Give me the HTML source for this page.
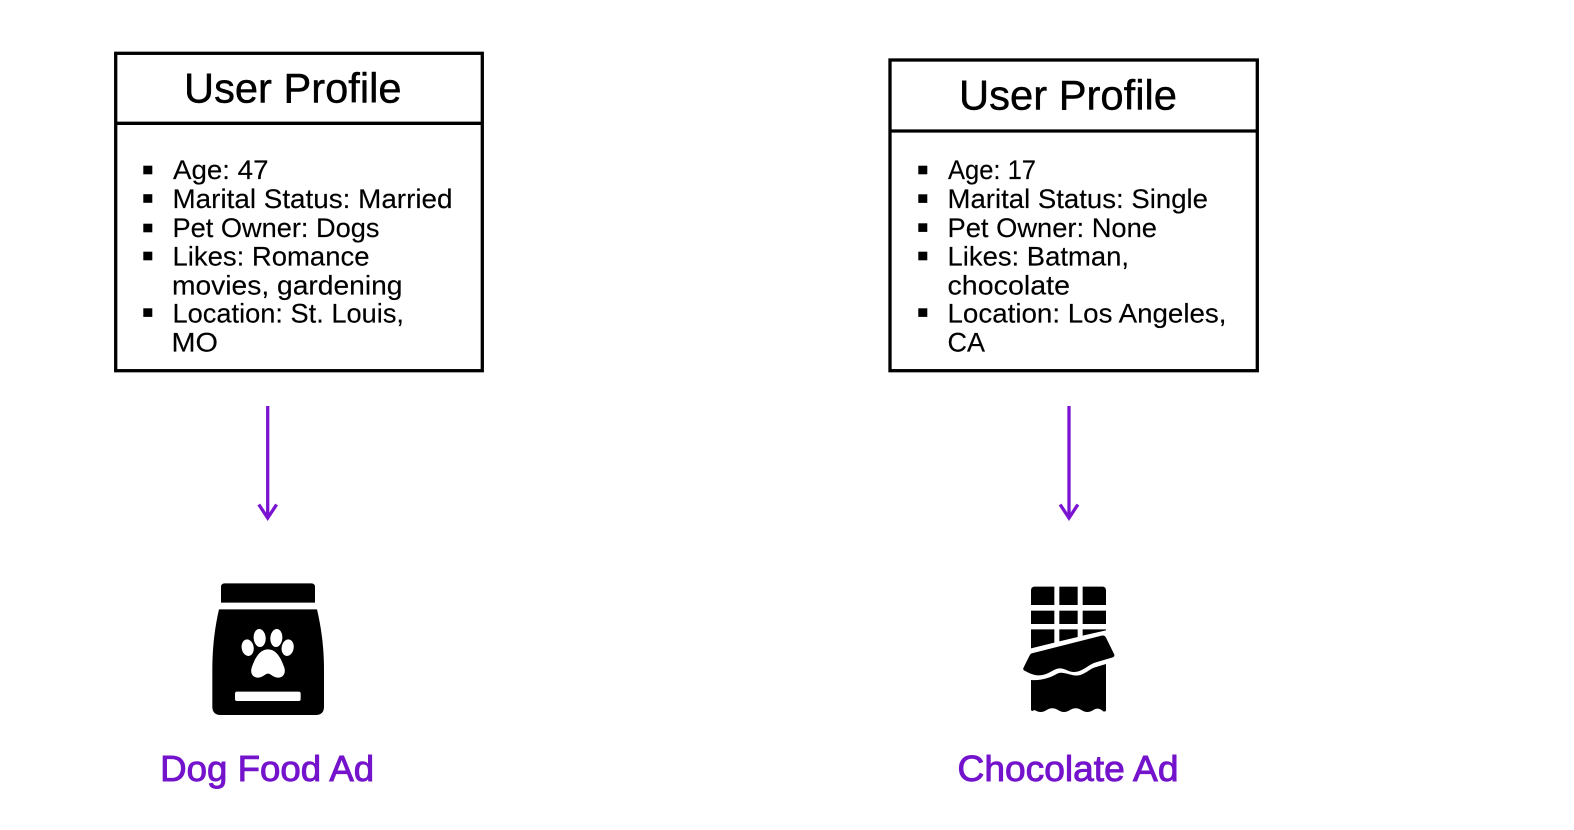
<!DOCTYPE html>
<html>
<head>
<meta charset="utf-8">
<style>
html,body{margin:0;padding:0;background:#fff;width:1574px;height:830px;overflow:hidden}
svg{display:block}
text{font-family:"Liberation Sans",sans-serif}
.t{font-size:42px;fill:#000;stroke:#000;stroke-width:.45}
.l{font-size:27px;fill:#000;stroke:#000;stroke-width:.15}
.a{font-size:36px;fill:#7413cc;stroke:#7413cc;stroke-width:.9}
</style>
</head>
<body>
<svg width="1574" height="830" viewBox="0 0 1574 830" xmlns="http://www.w3.org/2000/svg">
<rect width="1574" height="830" fill="#fff"/>

<!-- Left box -->
<rect x="115.700" y="53.300" width="366.600" height="317.400" fill="none" stroke="#000" stroke-width="3.300"/>
<line x1="115.700" y1="123.300" x2="482.300" y2="123.300" stroke="#000" stroke-width="3.300"/>
<text class="t" x="184" y="102.300" textLength="217.500" lengthAdjust="spacingAndGlyphs">User Profile</text>
<g fill="#000">
<rect x="143.300" y="165.700" width="9" height="8.600"/>
<rect x="143.300" y="194.200" width="9" height="8.600"/>
<rect x="143.300" y="223.700" width="9" height="8.600"/>
<rect x="143.300" y="251.700" width="9" height="8.600"/>
<rect x="143.300" y="308.300" width="9" height="8.600"/>
</g>
<text class="l" x="173" y="178.800" textLength="95.500" lengthAdjust="spacingAndGlyphs">Age: 47</text>
<text class="l" x="172.500" y="208" textLength="280" lengthAdjust="spacingAndGlyphs">Marital Status: Married</text>
<text class="l" x="172.500" y="237" textLength="207" lengthAdjust="spacingAndGlyphs">Pet Owner: Dogs</text>
<text class="l" x="172.500" y="265.500" textLength="197" lengthAdjust="spacingAndGlyphs">Likes: Romance</text>
<text class="l" x="172" y="294.500" textLength="230.500" lengthAdjust="spacingAndGlyphs">movies, gardening</text>
<text class="l" x="172.500" y="322.700" textLength="231.500" lengthAdjust="spacingAndGlyphs">Location: St. Louis,</text>
<text class="l" x="171.500" y="351.700" textLength="46.500" lengthAdjust="spacingAndGlyphs">MO</text>

<!-- Right box -->
<rect x="890" y="60" width="367.300" height="310.700" fill="none" stroke="#000" stroke-width="3.300"/>
<line x1="890" y1="131" x2="1257.300" y2="131" stroke="#000" stroke-width="3.300"/>
<text class="t" x="959" y="109.700" textLength="218" lengthAdjust="spacingAndGlyphs">User Profile</text>
<g fill="#000">
<rect x="918.300" y="165.700" width="9" height="8.600"/>
<rect x="918.300" y="194.300" width="9" height="8.600"/>
<rect x="918.300" y="223.300" width="9" height="8.600"/>
<rect x="918.300" y="251.700" width="9" height="8.600"/>
<rect x="918.300" y="308.300" width="9" height="8.600"/>
</g>
<text class="l" x="948" y="178.800" textLength="88" lengthAdjust="spacingAndGlyphs">Age: 17</text>
<text class="l" x="947.500" y="208" textLength="260.500" lengthAdjust="spacingAndGlyphs">Marital Status: Single</text>
<text class="l" x="947.500" y="237" textLength="209.500" lengthAdjust="spacingAndGlyphs">Pet Owner: None</text>
<text class="l" x="947.500" y="265.500" textLength="181.500" lengthAdjust="spacingAndGlyphs">Likes: Batman,</text>
<text class="l" x="947.500" y="294.500" textLength="122.500" lengthAdjust="spacingAndGlyphs">chocolate</text>
<text class="l" x="947.500" y="322.700" textLength="279" lengthAdjust="spacingAndGlyphs">Location: Los Angeles,</text>
<text class="l" x="947.500" y="351.700" textLength="37.500" lengthAdjust="spacingAndGlyphs">CA</text>

<!-- Arrows -->
<g fill="none" stroke="#7a14d2" stroke-width="3.300">
<line x1="267.700" y1="406" x2="267.700" y2="518"/>
<polyline points="258.800,504.500 267.700,518 276.600,504.500"/>
<line x1="1069" y1="406" x2="1069" y2="518"/>
<polyline points="1060.100,504.500 1069,518 1077.900,504.500"/>
</g>

<!-- Dog food icon -->
<g transform="translate(190 570) scale(.33333)">
<path d="M103 40H365a10 10 0 0 1 10 10V98H93V50a10 10 0 0 1 10-10Z" fill="#000"/>
<path d="M87 118H381C392 165 402 225 402 300V410Q402 435 377 435H92Q67 435 67 410V300C67 225 76 165 87 118Z" fill="#000"/>
<g fill="#fff">
<ellipse cx="173" cy="233" rx="18" ry="25" transform="rotate(-10 173 233)"/>
<ellipse cx="209" cy="204" rx="18" ry="27" transform="rotate(-5 209 204)"/>
<ellipse cx="259" cy="204" rx="18" ry="27" transform="rotate(5 259 204)"/>
<ellipse cx="293" cy="233" rx="18" ry="25" transform="rotate(10 293 233)"/>
<path d="M234 238C258 238 272 262 282 290C290 312 277 324 262 323C248 321 242 311 234 311C226 311 220 321 206 323C191 324 178 312 186 290C196 262 210 238 234 238Z"/>
<rect x="135" y="365" width="197" height="28" rx="6"/>
</g>
</g>

<!-- Chocolate icon -->
<g transform="translate(1000 570) scale(.33333)" fill="#000">
<path d="M103 50H163V105H93V60a10 10 0 0 1 10-10Z"/>
<rect x="178" y="50" width="55" height="55"/>
<path d="M248 50H308a10 10 0 0 1 10 10V105H248Z"/>
<rect x="93" y="122" width="70" height="40"/>
<rect x="178" y="122" width="55" height="40"/>
<rect x="248" y="122" width="70" height="40"/>
<path d="M93 178H163V218L93 235Z"/>
<path d="M178 178H233V201L178 214Z"/>
<path d="M248 178H318V181L248 197Z"/>
<path d="M95 250L305 197Q314 195 318 203L343 254Q344 260 338 262L285 278C262 286 250 305 222 306C205 306 195 294 178 295C160 296 145 316 115 316C100 316 85 308 72 301Q68 298 71 292L88 258Q90 252 95 250Z"/>
<path d="M93 330C125 332 150 324 172 311C185 304 200 312 222 316C250 320 265 298 285 292L318 282V420Q318 426 310 424C298 414 290 414 280 420C268 428 256 428 244 420C232 413 222 413 210 420C198 428 186 428 174 420C162 413 152 413 140 420C128 428 116 428 104 420Q93 426 93 418Z"/>
</g>

<!-- Labels -->
<text class="a" x="160.200" y="781" textLength="214" lengthAdjust="spacingAndGlyphs">Dog Food Ad</text>
<text class="a" x="957.500" y="781" textLength="221" lengthAdjust="spacingAndGlyphs">Chocolate Ad</text>
</svg>
</body>
</html>
